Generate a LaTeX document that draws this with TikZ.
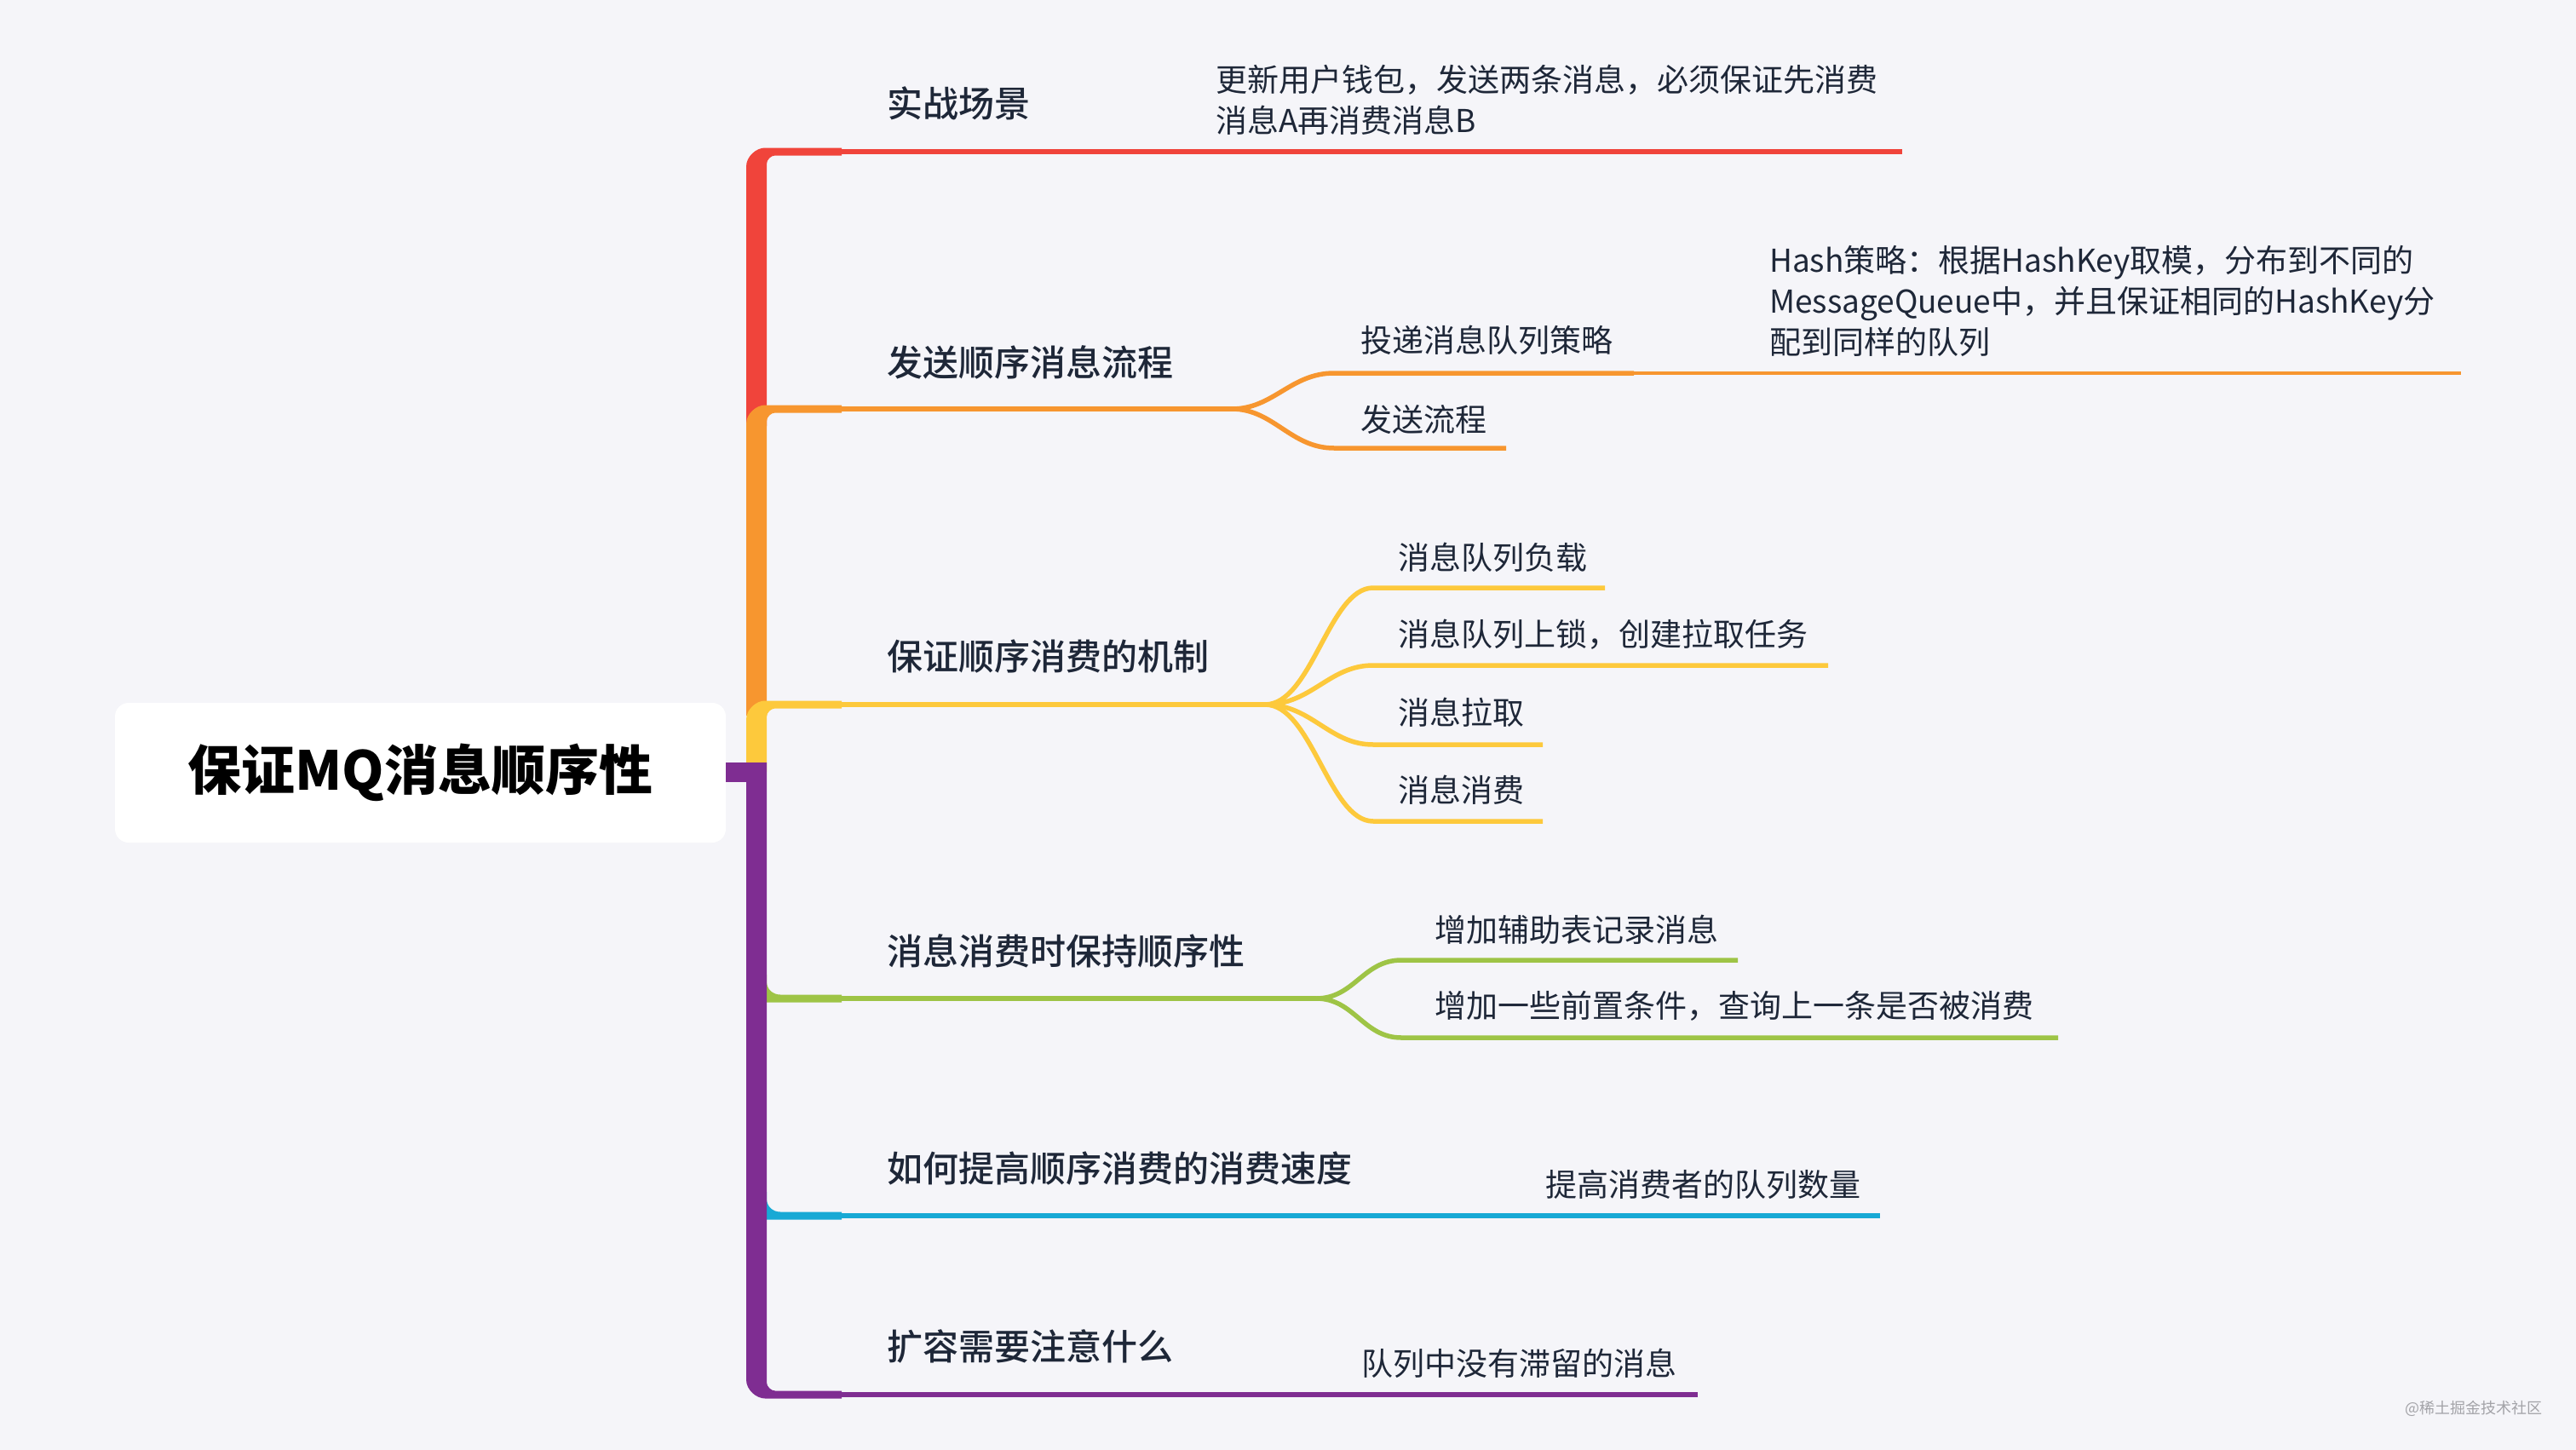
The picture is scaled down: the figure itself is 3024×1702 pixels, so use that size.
\documentclass[tikz,border=0pt]{standalone}
\usepackage{fontspec}
\setmainfont{Noto Sans CJK SC}[BoldFont={Noto Sans CJK SC Medium}]
\newfontfamily\heavyfont{Noto Sans CJK SC}
\definecolor{bg}{HTML}{F5F5F9}
\definecolor{cred}{HTML}{F0443B}
\definecolor{corange}{HTML}{F7962F}
\definecolor{cyellow}{HTML}{FDC93C}
\definecolor{cpurple}{HTML}{7F2D92}
\definecolor{cgreen}{HTML}{9EC446}
\definecolor{cblue}{HTML}{18A9D5}
\definecolor{ctext}{HTML}{1E2738}
\definecolor{cwm}{HTML}{A3A3A8}
% trunk segment with rounded top corner: colour, branch y, bottom y
\newcommand\mmtrunk[3]{%
  \fill[#1] (876,#3) -- (876,#2+17.5) .. controls (876,#2+5.5) and (888,#2-4.5) .. (898,#2-4.5)
    -- (988,#2-4.5) -- (988,#2+4.5) -- (910,#2+4.5) .. controls (905.5,#2+4.5) and (900,#2+9) .. (900,#2+14.5)
    -- (900,#3) -- cycle;}
% side junction of a branch leaving the purple trunk
\newcommand\mmjoin[2]{%
  \fill[#1] (890,#2-28) -- (890,#2+4.5) -- (988,#2+4.5) -- (988,#2-4.5) -- (916,#2-4.5)
    .. controls (907,#2-4.5) and (900,#2-11) .. (900,#2-20) -- (900,#2-28) -- cycle;}
\begin{document}
\begin{tikzpicture}[x=1pt,y=-1pt,
  mainlbl/.style={anchor=west,inner sep=0pt,text=ctext,font=\fontsize{42}{50}\selectfont\bfseries},
  sublbl/.style={anchor=west,inner sep=0pt,text=ctext,font=\fontsize{37}{48}\selectfont,align=left},
  branch/.style={line width=5.5pt},
  hairline/.style={line width=3.8pt}]
\fill[bg] (0,0) rectangle (3024,1702);
\useasboundingbox (0,0) rectangle (3024,1702);

% root
\node[fill=white,rounded corners=16pt,minimum width=717pt,minimum height=164pt,inner sep=0pt,
      text=black,font=\heavyfont\fontsize{63}{72}\selectfont\bfseries] (root) at (493.5,907) {保证MQ消息顺序性};

% named points
\coordinate (fo) at (1446,480);
\coordinate (fy) at (1485,827);
\coordinate (fg) at (1545,1172);

% trunk (top part)
\mmtrunk{cred}{178}{500}
\mmtrunk{corange}{480}{840}
\mmtrunk{cyellow}{827}{906}
% lower junctions
\mmjoin{cgreen}{1172}
\mmjoin{cblue}{1427}
% purple trunk with bottom corner
\fill[cpurple] (876,895) -- (876,1619.5) .. controls (876,1631.5) and (888,1641.5) .. (898,1641.5)
   -- (988,1641.5) -- (988,1632.5) -- (910,1632.5) .. controls (905.5,1632.5) and (900,1628) .. (900,1622.5)
   -- (900,895) -- cycle;
% stub from root
\fill[cpurple] (root.east |- 0,895) rectangle (888,918);

% red branch
\draw[cred,branch] (985,178) -- (2233,178);
% orange branch
\draw[corange,branch] (985,480) -- (fo);
\draw[corange,branch] (fo) .. controls (1495,480) and (1515,438) .. (1566,438) -- (1918,438);
\draw[corange,hairline] (1917,438) -- (2889,438);
\draw[corange,branch] (fo) .. controls (1495,480) and (1515,526) .. (1566,526) -- (1768,526);
% yellow branch
\draw[cyellow,branch] (985,827) -- (fy);
\draw[cyellow,branch] (fy) .. controls (1540,827) and (1560,690) .. (1612,690) -- (1884,690);
\draw[cyellow,branch] (fy) .. controls (1540,827) and (1560,781) .. (1612,781) -- (2146,781);
\draw[cyellow,branch] (fy) .. controls (1540,827) and (1560,874) .. (1612,874) -- (1811,874);
\draw[cyellow,branch] (fy) .. controls (1540,827) and (1560,964) .. (1612,964) -- (1811,964);
% green branch
\draw[cgreen,branch] (985,1172) -- (fg);
\draw[cgreen,branch] (fg) .. controls (1590,1172) and (1600,1127) .. (1645,1127) -- (2040,1127);
\draw[cgreen,branch] (fg) .. controls (1590,1172) and (1600,1218) .. (1645,1218) -- (2416,1218);
% blue branch
\draw[cblue,branch] (985,1427) -- (2207,1427);
% purple branch
\draw[cpurple,branch] (985,1637) -- (1993,1637);

% labels
\node[mainlbl] (b1) at (1041,121) {实战场景};
\node[sublbl] (b1a) at (1427,117) {更新用户钱包，发送两条消息，必须保证先消费\\消息A再消费消息B};
\node[mainlbl] (b2) at (1041,425) {发送顺序消息流程};
\node[sublbl] (b2a) at (1597,399) {投递消息队列策略};
\node[sublbl] (b2a1) at (2077,353) {Hash策略：根据HashKey取模，分布到不同的\\MessageQueue中，并且保证相同的HashKey分\\配到同样的队列};
\node[sublbl] (b2b) at (1597,492) {发送流程};
\node[mainlbl] (b3) at (1041,770) {保证顺序消费的机制};
\node[sublbl] (b3a) at (1641,654) {消息队列负载};
\node[sublbl] (b3b) at (1641,745) {消息队列上锁，创建拉取任务};
\node[sublbl] (b3c) at (1641,836) {消息拉取};
\node[sublbl] (b3d) at (1641,927) {消息消费};
\node[mainlbl] (b4) at (1041,1116) {消息消费时保持顺序性};
\node[sublbl] (b4a) at (1684,1091) {增加辅助表记录消息};
\node[sublbl] (b4b) at (1684,1181) {增加一些前置条件，查询上一条是否被消费};
\node[mainlbl] (b5) at (1041,1371) {如何提高顺序消费的消费速度};
\node[sublbl] (b5a) at (1814,1390) {提高消费者的队列数量};
\node[mainlbl] (b6) at (1041,1580) {扩容需要注意什么};
\node[sublbl] (b6a) at (1598,1600) {队列中没有滞留的消息};
\node[inner sep=0pt,text=cwm,font=\fontsize{18}{20}\selectfont] (wm) at (2904,1653) {@稀土掘金技术社区};
\end{tikzpicture}
\end{document}
